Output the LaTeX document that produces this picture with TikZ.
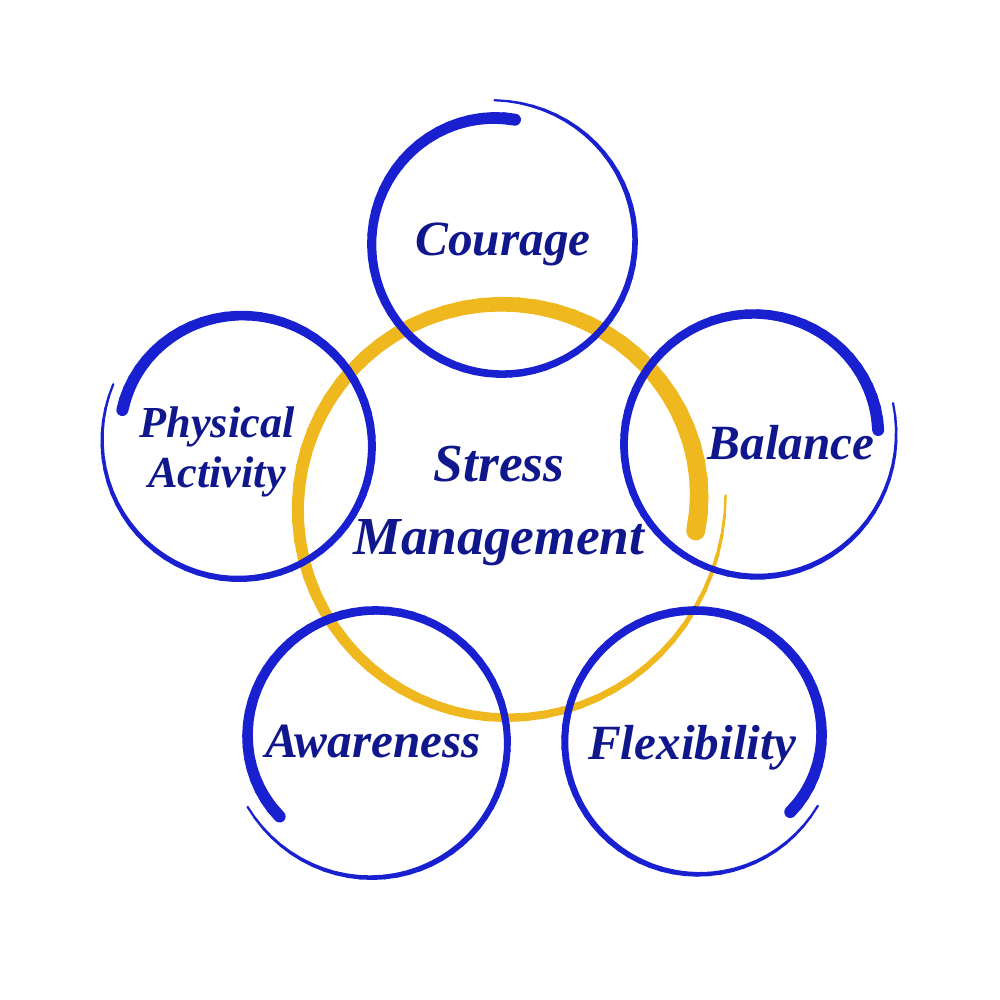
\documentclass[tikz,border=0pt]{standalone}
\usepackage{fontspec}
\setmainfont{Liberation Serif}
\usetikzlibrary{calc}
\definecolor{RingBlue}{RGB}{24,32,208}
\definecolor{RingGold}{RGB}{238,184,30}
\definecolor{TextBlue}{RGB}{16,22,140}
\tikzset{%
	% Style of the ring label
	RingName/.style={font=\fontsize{14}{16}\selectfont\bfseries\itshape,text=TextBlue,inner sep=0},
	% Style of the two line ring label
	RingName2/.style={font=\fontsize{12.6}{14.2}\selectfont\bfseries\itshape,text=TextBlue,inner sep=0,align=center},
	% Style of the centre label
	CentreName/.style={font=\fontsize{15.2}{20.8}\selectfont\bfseries\itshape,text=TextBlue,inner sep=0,align=center},
	% Style of the brush stroke
	Brush/.style={line cap=round},
}
% brush ring: centre, start angle, sweep, start radius, mid radius, end radius, start width, mid width, colour
\newcommand{\BrushRing}[9]{%
	\foreach \k in {0,...,71}{%
		\pgfmathsetmacro{\tA}{\k/72}
		\pgfmathsetmacro{\tB}{(\k+1)/72}
		\pgfmathsetmacro{\aA}{#2+(#3)*\tA}
		\pgfmathsetmacro{\aB}{#2+(#3)*\tB}
		\pgfmathsetmacro{\rA}{#5+(#4-#5)*(1-\tA)^8+(#6-#5)*\tA^6}
		\pgfmathsetmacro{\rB}{#5+(#4-#5)*(1-\tB)^8+(#6-#5)*\tB^6}
		\pgfmathsetmacro{\wd}{0.2845*(2+(#8-2)*(1-\tA^3)+(#7-#8)*(1-\tA)^4)}
		\draw[Brush,#9,line width=\wd pt] ($(#1)+(\aA:\rA)$) -- ($(#1)+(\aB:\rB)$);
	}%
}

\begin{document}
\begin{tikzpicture}[x=0.01cm,y=-0.01cm]
\useasboundingbox (0,0) rectangle (1000,1000);

%~~~~~~~~~~~~~~~~~~~~~~~~~~~~~~~~~~~~~~~~~~~~~~~~~~
% Set Centres
%~~~~~~~~~~~~~~~~~~~~~~~~~~~~~~~~~~~~~~~~~~~~~~~~~~
\coordinate (C0) at (504, 509);
\coordinate (C1) at (502, 243);
\coordinate (C2) at (755, 444);
\coordinate (C3) at (696, 741);
\coordinate (C4) at (375, 742);
\coordinate (C5) at (240, 446);

%~~~~~~~~~~~~~~~~~~~~~~~~~~~~~~~~~~~~~~~~~~~~~~~~~~
% Set Rings
%~~~~~~~~~~~~~~~~~~~~~~~~~~~~~~~~~~~~~~~~~~~~~~~~~~
%Stress management
\BrushRing{C0}{6.5}{-370}{193}{206}{222}{19}{13}{RingGold}

%Courage
\BrushRing{C1}{-84}{-369}{124}{131}{143}{12}{8}{RingBlue}

%Balance
\BrushRing{C2}{-6.5}{-370}{124}{131}{144}{12}{8}{RingBlue}

%Flexibility
\BrushRing{C3}{37}{-369}{118}{131}{138}{12}{8}{RingBlue}

%Awareness
\BrushRing{C4}{-218}{371}{121}{132}{143}{12}{8}{RingBlue}

%Physical activity
\BrushRing{C5}{-163}{369}{123}{132}{141}{12}{8}{RingBlue}

%~~~~~~~~~~~~~~~~~~~~~~~~~~~~~~~~~~~~~~~~~~~~~~~~~~
% Set Labels
%~~~~~~~~~~~~~~~~~~~~~~~~~~~~~~~~~~~~~~~~~~~~~~~~~~
\node[CentreName] (N0) at (499, 506) {Stress\\Management};
\node[RingName] (N1) at (503, 244) {Courage};
\node[RingName] (N2) at (791, 443) {Balance};
\node[RingName] (N3) at (692, 748) {Flexibility};
\node[RingName] (N4) at (373, 741) {Awareness};
\node[RingName2] (N5) at (217, 452) {Physical\\Activity};

\end{tikzpicture}
\end{document}
